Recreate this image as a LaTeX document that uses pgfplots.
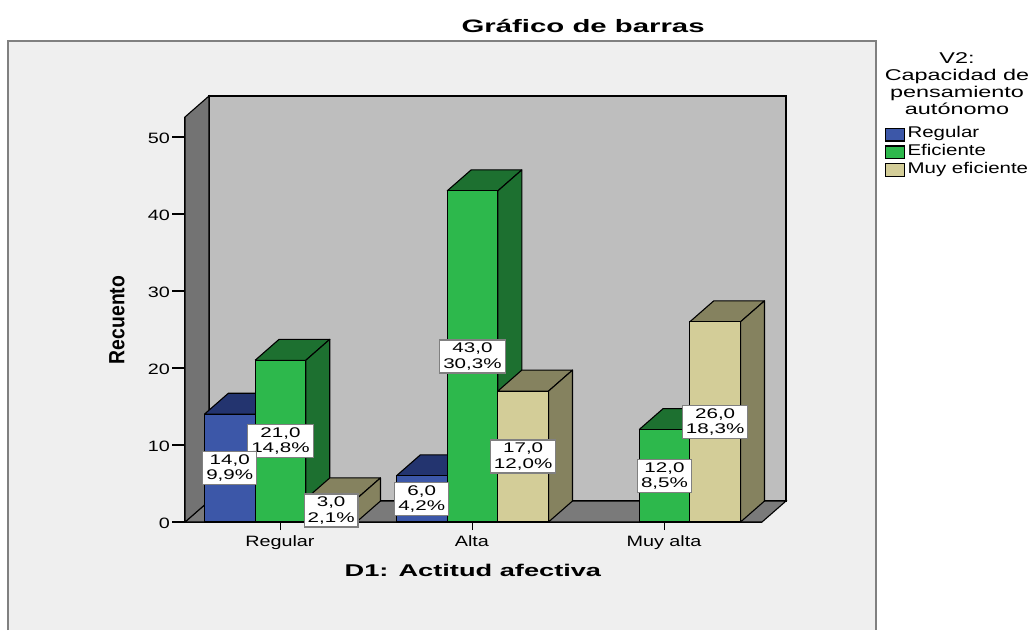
\documentclass[border=0pt]{standalone}
\usepackage{fontspec}
\usepackage{pgfplots}
\pgfplotsset{compat=1.18}
\setmainfont[FakeStretch=1.32]{Liberation Sans}
\newfontfamily\titlef[FakeStretch=1.63]{Liberation Sans Bold}
\newfontfamily\xlabf[FakeStretch=1.6]{Liberation Sans Bold}
\newfontfamily\ylabf[FakeStretch=0.88]{Liberation Sans Bold}
\newfontfamily\legtf[FakeStretch=1.5]{Liberation Sans}
\newfontfamily\boxf[FakeStretch=1.47]{Liberation Sans}
\definecolor{bgc}{HTML}{EFEFEF}
\definecolor{framec}{HTML}{808080}
\definecolor{wallc}{HTML}{BEBEBE}
\definecolor{lwallc}{HTML}{737373}
\definecolor{floorc}{HTML}{7A7A7A}
\definecolor{bluef}{HTML}{3C57A8}
\definecolor{blues}{HTML}{23346F}
\definecolor{greenf}{HTML}{2DB84C}
\definecolor{greens}{HTML}{1D7030}
\definecolor{tanf}{HTML}{D3CD98}
\definecolor{tans}{HTML}{85825F}
\newcommand{\threedbar}[6]{% group centre, slot, value, front, side, top
  \pgfmathsetmacro\xa{#1+(#2-0.5)*0.264}
  \pgfmathsetmacro\xb{\xa+0.264}
  \pgfmathsetmacro\xc{\xb+0.125}
  \pgfmathsetmacro\xd{\xa+0.125}
  \pgfmathsetmacro\hh{#3}
  \pgfmathsetmacro\hd{#3+2.727}
  \addplot[fill=#6,draw=black,line width=1.1pt,line join=round,forget plot] coordinates {(\xa,\hh)(\xb,\hh)(\xc,\hd)(\xd,\hd)(\xa,\hh)};
  \addplot[fill=#5,draw=black,line width=1.1pt,line join=round,forget plot] coordinates {(\xb,0)(\xc,2.727)(\xc,\hd)(\xb,\hh)(\xb,0)};
  \addplot[fill=#4,draw=black,line width=1.1pt,line join=round,forget plot] coordinates {(\xa,0)(\xb,0)(\xb,\hh)(\xa,\hh)(\xa,0)};
}
\newcommand{\lab}[3]{\node[fill=white,draw=black!50,line width=1.2pt,inner xsep=3.5pt,inner ysep=3pt,align=center,font=\fontsize{14}{15.5}\selectfont\boxf] at (axis cs:#1,#2) {#3};}
\begin{document}
\begin{tikzpicture}
\path[use as bounding box] (0pt,0pt) rectangle (1032pt,-630pt);
\fill[bgc] (8pt,-630pt) rectangle (876pt,-41pt);
\draw[framec,line width=2.5pt] (8pt,-630pt) -- (8pt,-41pt) -- (876pt,-41pt) -- (876pt,-630pt);
\begin{axis}[
  at={(185pt,-522pt)},anchor=south west,
  scale only axis,width=577pt,height=405pt,
  xmin=-0.497,xmax=2.508,ymin=0,ymax=52.6,
  clip=false,
  axis x line*=bottom,axis y line*=left,
  axis line style={-,black,line width=1.1pt},
  xtick={0,1,2},xticklabels={Regular,Alta,Muy alta},
  ytick={0,10,20,30,40,50},
  tick align=outside,
  major tick length=13pt,
  ytick style={black,line width=1.1pt},
  xtick style={black,line width=1.1pt,/pgfplots/major tick length=8pt},
  tick label style={font=\fontsize{15}{16}\selectfont},
  /pgf/number format/assume math mode=true,
  xticklabel style={yshift=3pt,xshift=-0.5pt},
  yticklabel style={xshift=1.5pt,yshift=-1.5pt},
  title={\titlef Gráfico de barras},
  title style={at={(axis description cs:0.69,1.21)},anchor=center,font=\fontsize{18}{20}\selectfont},
  xlabel={\xlabf D1: Actitud afectiva},
  x label style={at={(axis description cs:0.499,-0.1185)},anchor=center,font=\fontsize{17}{19}\selectfont},
  ylabel={\ylabf Recuento},
  y label style={at={(axis description cs:-0.118,0.499)},anchor=center,font=\fontsize{22}{24}\selectfont},
  legend cell align=left,
  legend style={at={(axis description cs:1.213,0.973)},anchor=north west,draw=none,fill=none,inner sep=0pt,outer sep=0pt,row sep=3.5pt,nodes={inner sep=0pt,outer sep=0pt,text height=10pt,text depth=4pt},font=\fontsize{15.5}{16}\selectfont},
  legend image code/.code={\draw[#1,draw=black,line width=1.1pt] (0pt,-6pt) rectangle (19pt,6.5pt);},
]
\addlegendimage{fill=bluef}\addlegendentry{\,Regular}
\addlegendimage{fill=greenf}\addlegendentry{\,Eficiente}
\addlegendimage{fill=tanf}\addlegendentry{\,Muy eficiente}
% walls
\addplot[fill=wallc,draw=black,line width=1.1pt,forget plot] coordinates {(-0.372,2.727)(2.633,2.727)(2.633,55.33)(-0.372,55.33)(-0.372,2.727)};
\addplot[fill=floorc,draw=black,line width=1.1pt,forget plot] coordinates {(-0.497,0)(2.508,0)(2.633,2.727)(-0.372,2.727)(-0.497,0)};
\addplot[fill=lwallc,draw=black,line width=1.1pt,forget plot] coordinates {(-0.497,0)(-0.372,2.727)(-0.372,55.33)(-0.497,52.6)(-0.497,0)};
% bars: group, slot, count
\threedbar{0}{-1}{14}{bluef}{blues}{blues}
\threedbar{0}{0}{21}{greenf}{greens}{greens}
\threedbar{0}{1}{3}{tanf}{tans}{tans}
\threedbar{1}{-1}{6}{bluef}{blues}{blues}
\threedbar{1}{0}{43}{greenf}{greens}{greens}
\threedbar{1}{1}{17}{tanf}{tans}{tans}
\threedbar{2}{0}{12}{greenf}{greens}{greens}
\threedbar{2}{1}{26}{tanf}{tans}{tans}
% labels
\lab{0}{10.5}{21,0\\14,8\%}
\lab{-0.264}{7}{14,0\\9,9\%}
\lab{0.264}{1.5}{3,0\\2,1\%}
\lab{0.736}{3}{6,0\\4,2\%}
\lab{1}{21.5}{43,0\\30,3\%}
\lab{1.264}{8.5}{17,0\\12,0\%}
\lab{2}{6}{12,0\\8,5\%}
\lab{2.264}{13}{26,0\\18,3\%}
\end{axis}
\node[font=\fontsize{15.6}{17}\selectfont\legtf,align=center,anchor=north,inner sep=0pt] at (957pt,-52pt) {V2:\\[0.5pt]Capacidad de\\pensamiento\\autónomo};
\end{tikzpicture}
\end{document}
